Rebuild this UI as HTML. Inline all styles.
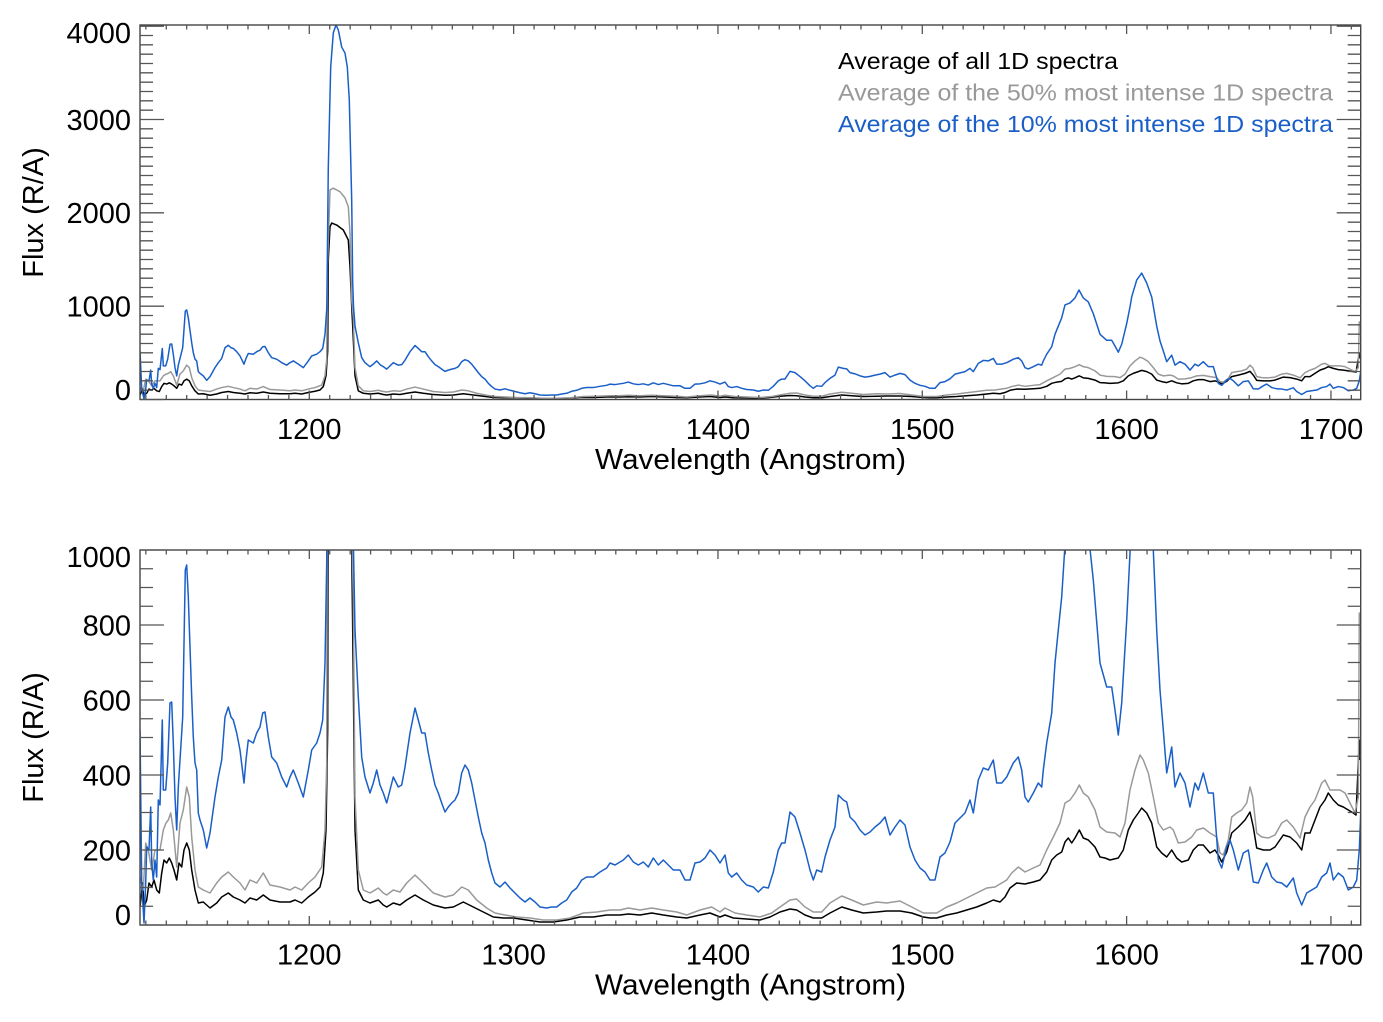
<!DOCTYPE html>
<html><head><meta charset="utf-8">
<style>html,body{margin:0;padding:0;background:#fff;}svg{display:block}</style>
</head>
<body>
<svg id="s" width="1383" height="1022" xmlns="http://www.w3.org/2000/svg" font-family="'Liberation Sans', Arial, Helvetica, sans-serif">
<defs>
<clipPath id="c1"><rect x="140" y="25" width="1220.7" height="374.5"/></clipPath>
<clipPath id="c2"><rect x="140" y="550" width="1220.7" height="375"/></clipPath>
</defs>
<rect x="0" y="0" width="1383" height="1022" fill="#fff"/>
<g id="g1" clip-path="url(#c1)"></g>
<g id="g2" clip-path="url(#c2)"></g>
<g id="ax"></g>

<!-- Top panel y labels -->
<g font-size="29" fill="#000" text-anchor="end">
<text x="131" y="43">4000</text>
<text x="131" y="130">3000</text>
<text x="131" y="223">2000</text>
<text x="131" y="316.5">1000</text>
<text x="131" y="400">0</text>
</g>
<!-- Bottom panel y labels -->
<g font-size="29" fill="#000" text-anchor="end">
<text x="131" y="567">1000</text>
<text x="131" y="635.5">800</text>
<text x="131" y="710.5">600</text>
<text x="131" y="785.5">400</text>
<text x="131" y="860.5">200</text>
<text x="131" y="925">0</text>
</g>
<!-- x labels -->
<g font-size="29" fill="#000" text-anchor="middle">
<text x="309.3" y="439">1200</text>
<text x="513.6" y="439">1300</text>
<text x="718" y="439">1400</text>
<text x="922.3" y="439">1500</text>
<text x="1126.6" y="439">1600</text>
<text x="1331" y="439">1700</text>
<text x="309.3" y="964.5">1200</text>
<text x="513.6" y="964.5">1300</text>
<text x="718" y="964.5">1400</text>
<text x="922.3" y="964.5">1500</text>
<text x="1126.6" y="964.5">1600</text>
<text x="1331" y="964.5">1700</text>
</g>
<!-- axis titles -->
<text x="595" y="469" font-size="29" textLength="311" lengthAdjust="spacingAndGlyphs" fill="#000">Wavelength (Angstrom)</text>
<text x="595" y="994.5" font-size="29" textLength="311" lengthAdjust="spacingAndGlyphs" fill="#000">Wavelength (Angstrom)</text>
<text transform="translate(43,212.5) rotate(-90)" text-anchor="middle" font-size="29" fill="#000">Flux (R/A)</text>
<text transform="translate(43,737.5) rotate(-90)" text-anchor="middle" font-size="29" fill="#000">Flux (R/A)</text>
<!-- legend -->
<text x="838" y="69" font-size="23" textLength="280" lengthAdjust="spacingAndGlyphs" fill="#000">Average of all 1D spectra</text>
<text x="838" y="100.5" font-size="23" textLength="495" lengthAdjust="spacingAndGlyphs" fill="#999">Average of the 50% most intense 1D spectra</text>
<text x="838" y="132" font-size="23" textLength="495" lengthAdjust="spacingAndGlyphs" fill="#1a5fc8">Average of the 10% most intense 1D spectra</text>
</svg>
<script>
(function(){
var NS="http://www.w3.org/2000/svg";
var blue=[[140,730],[141.7,883],[144,923],[145.7,883],[146.7,847],[149,850],[150.7,807],[151.7,863],[153.3,880],[155,860],[156.7,877],[158.3,800],[160,805],[162.3,720],[163.3,790],[165.7,790],[167.7,763],[170,703],[171.7,702],[173.3,743],[175,797],[176.7,830],[178.3,787],[180,760],[182.7,717],[185.3,570],[186.7,565],[188.3,597],[190,647],[191.7,697],[193.3,737],[195,763],[196.7,770],[198.3,813],[200,820],[203.3,830],[206.7,848],[210,833],[215,797],[218.3,777],[221.7,760],[225,717],[228.3,707],[231,717],[233.3,720],[236.7,733],[240,750],[244,783],[246,760],[248.3,740],[253.3,743],[256.7,733],[260,727],[262.7,713],[265,712],[268.3,737],[271.7,757],[276.7,763],[281.7,777],[286.7,787],[290,777],[293.3,770],[298.3,783],[303.3,797],[308.3,770],[311.7,750],[316.7,743],[320,733],[322.7,720],[325,663],[326.7,563],[326.9,525],[328.3,-9],[330.7,-411],[333.3,-548],[336,-580],[338.3,-560],[341.7,-491],[345,-467],[347.3,-411],[349.3,-278],[351.7,124],[352.7,457],[353.5,550],[355,630],[358.3,697],[361.7,757],[365,777],[370,793],[373.3,783],[376.7,770],[380,785],[383.3,793],[386.7,803],[390,790],[393.3,777],[398.3,787],[401.7,785],[405,767],[410,733],[415,708],[418.3,720],[421.7,733],[425,733],[428.3,753],[431.7,770],[435,785],[438.3,793],[441.7,803],[445,812],[448.3,807],[451.7,803],[455,800],[458.3,793],[461.7,773],[465,765],[468.3,770],[471.7,783],[475,800],[478.3,817],[481.7,833],[485,843],[488.3,860],[491.7,873],[495,883],[500,887],[505,882],[510,888],[515,893],[520,898],[525,902],[530,898],[535,902],[540,907],[546.7,908],[551.7,907],[556.7,907],[561.7,903],[566.7,900],[571.7,892],[576.7,888],[581.7,880],[586.7,877],[593.3,877],[600,872],[606.7,868],[610,863],[615,865],[620,862],[623.3,860],[628.3,855],[633.3,862],[638.3,865],[643.3,862],[648.3,867],[653.3,858],[658.3,865],[663.3,860],[668.3,865],[673.3,870],[680,870],[685,880],[690,880],[695,863],[700,862],[705,858],[710,850],[715,855],[720,863],[725,855],[728.3,873],[731.7,877],[736.7,873],[741.7,880],[746.7,885],[753.3,887],[758.3,892],[763.3,887],[768.3,888],[773.3,872],[778.3,850],[781.7,843],[785,843],[790,812],[795,817],[800,833],[805,850],[810,870],[813.3,880],[816.7,870],[821.7,872],[825,857],[830,840],[835,827],[838.3,795],[843.3,800],[846.7,802],[850,817],[855,822],[860,830],[865,835],[870,832],[875,827],[880,823],[885,817],[890,835],[895,827],[900,820],[905,825],[910,847],[915,860],[920,868],[925,872],[930,880],[935,880],[940,857],[945,853],[950,842],[955,823],[960,818],[965,813],[970,800],[973.3,813],[978.3,780],[983.3,768],[988.3,770],[993.3,760],[996.7,783],[1001.7,783],[1006.7,777],[1013.3,763],[1018.3,757],[1021.7,770],[1025,797],[1028.3,802],[1033.3,793],[1038.3,783],[1041.7,787],[1043.3,770],[1046.7,743],[1051.7,713],[1055,663],[1058.3,630],[1061.7,597],[1065,545],[1070,537],[1075,517],[1079,485],[1083.3,517],[1088.3,533],[1091.7,565],[1093.3,580],[1100,663],[1106.7,687],[1111.7,687],[1115,710],[1118.3,735],[1121.7,703],[1126.7,620],[1130,553],[1131.7,513],[1136.7,445],[1141.7,417],[1146.7,457],[1151.7,513],[1153.3,550],[1156.7,630],[1160,690],[1163.3,730],[1166.7,773],[1171.7,747],[1175,787],[1180,773],[1185,783],[1190,807],[1195,783],[1198.3,790],[1203.3,773],[1208.3,793],[1213.3,793],[1218.3,860],[1221.7,868],[1226.7,847],[1230,840],[1233.3,850],[1238.3,870],[1243.3,853],[1248.3,850],[1253.3,882],[1258.3,883],[1263.3,870],[1266.7,863],[1271.7,877],[1276.7,882],[1281.7,883],[1286.7,887],[1293.3,878],[1296.7,893],[1301.7,905],[1306.7,893],[1311.7,890],[1316.7,887],[1321.7,877],[1326.7,873],[1330,863],[1333.3,880],[1338.3,873],[1343.3,877],[1348.3,890],[1353.3,887],[1356.7,880],[1359.3,850],[1360.7,813]];
var gray=[[140,877],[143.3,890],[145.7,843],[148.3,850],[151.7,870],[155,850],[160,850],[163.3,830],[166,823],[168.3,820],[170.7,813],[173.3,830],[176.7,867],[180,823],[183.3,810],[186.7,787],[189.3,797],[191.7,837],[195,870],[198.3,887],[203.3,890],[210,893],[216.7,883],[221.7,877],[228.3,872],[233.3,877],[240,883],[245,890],[250,880],[256.7,883],[263.3,873],[270,885],[280,887],[290,890],[295,887],[301.7,890],[308.3,883],[315,877],[321.7,867],[325,830],[326.7,763],[327.5,392],[330,83],[333.3,76],[340,90],[345,115],[348.3,150],[350,256],[351.7,525],[353.3,597],[355,797],[358.3,870],[363.3,890],[370,893],[378.3,888],[383.3,893],[386.7,895],[393.3,890],[400,892],[406.7,883],[415,875],[423.3,883],[433.3,893],[445,897],[453.3,895],[461.7,887],[468.3,890],[476.7,900],[486.7,908],[495,913],[505,915],[516.7,917],[530,918],[543.3,920],[556.7,920],[570,918],[583.3,913],[596.7,912],[610,910],[620,910],[628.3,908],[640,910],[651.7,908],[663.3,910],[676.7,912],[686.7,915],[700,910],[711.7,907],[720,912],[725,908],[735,913],[746.7,915],[760,917],[771.7,913],[780,907],[790,900],[796.7,899],[805,907],[813.3,912],[821.7,912],[830,903],[841.7,896],[851.7,900],[863.3,905],[876.7,902],[886.7,903],[900,901],[911.7,907],[923.3,913],[936.7,913],[946.7,907],[956.7,903],[966.7,898],[976.7,893],[986.7,888],[995,887],[1001.7,883],[1006.7,880],[1011.7,873],[1018.3,867],[1025,872],[1033.3,868],[1040,865],[1046.7,850],[1053.3,837],[1060,823],[1065,803],[1070,800],[1075,793],[1079.3,785],[1083.3,793],[1088.3,797],[1095,810],[1100,827],[1106.7,832],[1115,833],[1120,837],[1125,823],[1130,790],[1135,770],[1140,755],[1143.3,760],[1148.3,773],[1153.3,797],[1158.3,823],[1163.3,830],[1170,827],[1173.3,830],[1178.3,843],[1185,842],[1191.7,837],[1196.7,830],[1203.3,828],[1210,833],[1216.7,837],[1220,853],[1223.3,855],[1228.3,840],[1231.7,817],[1236.7,813],[1241.7,810],[1246.7,803],[1250,787],[1252.7,797],[1256.7,833],[1261.7,837],[1268.3,838],[1275,835],[1281.7,823],[1286.7,820],[1293.3,827],[1300,838],[1305,817],[1310,807],[1315,800],[1321.7,783],[1325,780],[1330,790],[1335,790],[1340,790],[1345,793],[1350,803],[1355,813],[1358.3,797],[1359.3,613],[1360.7,630]];
var black=[[140,907],[142.7,883],[144,907],[146.7,900],[149,883],[151.7,887],[154,880],[156.7,890],[159.3,893],[161.7,873],[164,860],[166.7,863],[169.3,858],[171.7,863],[174,870],[176.7,880],[179,863],[181.7,867],[184,850],[186.7,843],[189.3,850],[191.7,870],[195,890],[198.3,903],[203.3,902],[210,908],[216.7,903],[221.7,897],[228.3,893],[233.3,897],[240,900],[245,903],[250,898],[256.7,900],[263.3,895],[270,900],[280,902],[290,902],[295,900],[301.7,903],[308.3,897],[315,892],[320,887],[323.3,873],[326,830],[327.7,730],[328.3,364],[330,231],[331.7,216],[336.7,224],[343.3,244],[348.3,284],[350,391],[351.7,550],[352.7,630],[355,830],[358.3,890],[363.3,900],[370,903],[378.3,900],[383.3,905],[386.7,907],[393.3,903],[400,905],[406.7,900],[415,895],[423.3,900],[433.3,905],[445,908],[453.3,907],[463.3,902],[473.3,907],[483.3,912],[493.3,917],[503.3,918],[513.3,918],[526.7,920],[540,922],[553.3,922],[566.7,920],[580,917],[593.3,917],[606.7,915],[620,915],[628.3,914],[640,915],[651.7,913],[663.3,915],[676.7,917],[686.7,918],[700,915],[710,913],[720,917],[725,915],[733.3,918],[746.7,919],[760,920],[770,917],[780,912],[790,909],[796.7,910],[805,915],[813.3,918],[821.7,918],[830,913],[841.7,907],[851.7,910],[863.3,913],[876.7,912],[886.7,911],[900,911],[911.7,913],[923.3,917],[930,918],[936.7,918],[946.7,915],[956.7,913],[966.7,910],[976.7,907],[986.7,903],[993.3,900],[1000,902],[1005,897],[1010,888],[1016.7,883],[1025,884],[1033.3,882],[1040,880],[1046.7,872],[1051.7,860],[1056.7,855],[1061.7,852],[1065,842],[1068.3,838],[1071.7,843],[1075,838],[1079.3,830],[1083.3,838],[1088.3,840],[1095,847],[1100,857],[1105,858],[1110,860],[1118.3,858],[1123.3,850],[1128.3,830],[1133.3,820],[1138.3,813],[1141.7,808],[1146.7,813],[1151.7,823],[1156.7,847],[1161.7,853],[1166.7,857],[1171.7,850],[1176.7,858],[1181.7,862],[1188.3,860],[1193.3,850],[1198.3,845],[1203.3,845],[1210,853],[1215,850],[1218.3,855],[1221.7,862],[1226.7,852],[1231.7,833],[1238.3,827],[1245,820],[1250,812],[1253.3,827],[1256.7,848],[1263.3,850],[1270,850],[1275,847],[1283.3,835],[1290,837],[1296.7,843],[1301.7,850],[1305,833],[1310,833],[1315,820],[1320,807],[1325,800],[1328.3,793],[1333.3,800],[1338.3,805],[1343.3,807],[1348.3,810],[1353.3,813],[1356,815],[1358.3,763],[1359.3,740],[1360,760]];
function topY(yb){var v=(925-yb)/0.375;return 399.5-v*0.093333;}
function mk(tag,attrs,parent){var e=document.createElementNS(NS,tag);for(var k in attrs)e.setAttribute(k,attrs[k]);parent.appendChild(e);return e;}
function pth(data,f){var s="";for(var i=0;i<data.length;i++){s+=(i?"L":"M")+data[i][0].toFixed(2)+","+f(data[i][1]).toFixed(2);}return s;}
var g1=document.getElementById("g1"),g2=document.getElementById("g2"),ax=document.getElementById("ax");
var series=[[black,"#000000"],[gray,"#999999"],[blue,"#1a5fc8"]];
series.forEach(function(s){
  mk("path",{d:pth(s[0],topY),fill:"none",stroke:s[1],"stroke-width":"1.5","stroke-linejoin":"round"},g1);
  mk("path",{d:pth(s[0],function(y){return y;}),fill:"none",stroke:s[1],"stroke-width":"1.5","stroke-linejoin":"round"},g2);
});
var panels=[{top:25,bot:399.5,f:function(v){return 399.5-v*0.093333;},ymin:100,ymaj:1000,ymax:4000},
            {top:550,bot:925,f:function(v){return 925-v*0.375;},ymin:50,ymaj:200,ymax:1000}];
var L=140,R=1360.7,d="";
panels.forEach(function(p){
  for(var lam=1120;lam<=1710;lam+=10){
    var x=309.3+(lam-1200)*2.0433; if(x<L||x>R)continue;
    var len=(lam%100===0)?9:4.5;
    d+="M"+x.toFixed(2)+","+p.bot+"V"+(p.bot-len)+"M"+x.toFixed(2)+","+p.top+"V"+(p.top+len);
  }
  for(var v=0;v<=p.ymax;v+=p.ymin){
    var y=p.f(v); if(y<p.top-0.5)continue;
    var l2=(v%p.ymaj===0)?24:13;
    d+="M"+L+","+y.toFixed(2)+"H"+(L+l2)+"M"+R+","+y.toFixed(2)+"H"+(R-l2);
  }
  mk("rect",{x:L,y:p.top,width:(R-L),height:(p.bot-p.top),fill:"none",stroke:"#444","stroke-width":"1.4"},ax);
});
mk("path",{d:d,fill:"none",stroke:"#555","stroke-width":"1.3"},ax);
})();
</script>
</body></html>
